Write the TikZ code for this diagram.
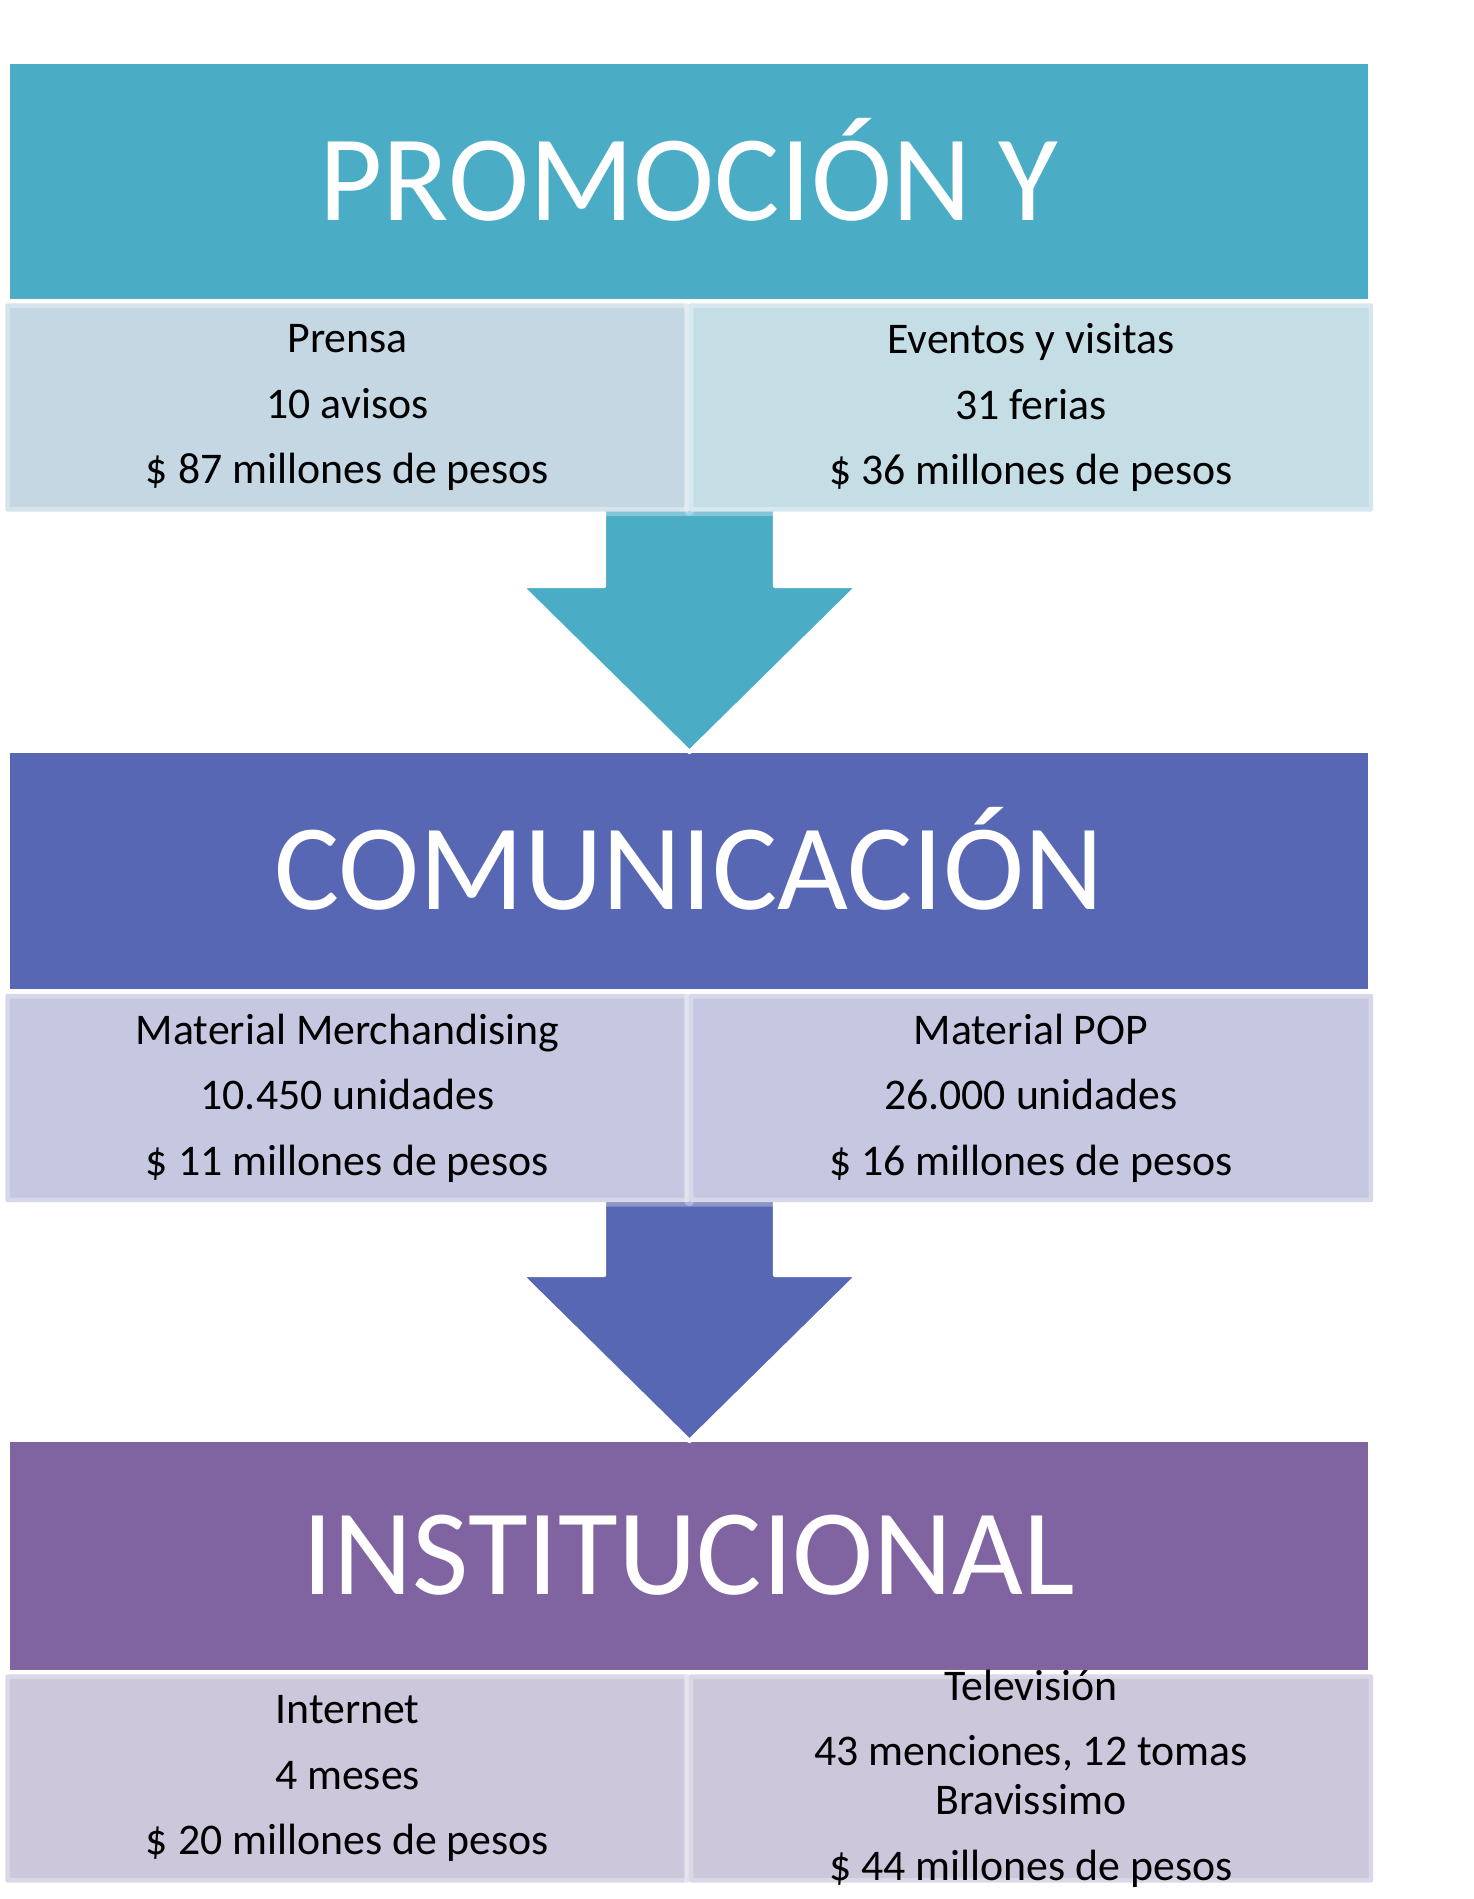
\documentclass[tikz,border=0pt]{standalone}
\usepackage{fontspec}
\setmainfont{Carlito}
\usetikzlibrary{positioning}

\definecolor{promoBand}{HTML}{4BACC6}
\definecolor{comBand}{HTML}{5867B3}
\definecolor{instBand}{HTML}{8064A2}
\definecolor{promoCellL}{HTML}{C4D7E3}
\definecolor{promoCellR}{HTML}{C5DEE6}
\definecolor{comCell}{HTML}{C5C8E0}
\definecolor{instCell}{HTML}{CDC7DC}

\begin{document}
\begin{tikzpicture}[
  x=0.01cm, y=-0.01cm,
  band/.style={minimum width=13.58cm, minimum height=2.35cm, inner sep=0pt,
    text=white, text height=22pt, text depth=0pt, font=\fontsize{34.8}{42}\selectfont},
  cell/.style={minimum width=6.84cm, minimum height=2.08cm, inner sep=0pt, align=center,
    draw=white, draw opacity=0.3, line width=2.6pt, rounded corners=0.6pt,
    font=\fontsize{12.45}{18.6}\selectfont},
  flow/.style={draw=white, line width=1.2pt, line join=round}
]
\useasboundingbox (0,0) rectangle (1474,1899);

% Stage headers
\node[band, fill=promoBand] (promo) at (689,181.5) {PROMOCIÓN Y};
\node[band, fill=comBand] (com) at (689,871) {COMUNICACIÓN};
\node[band, fill=instBand, minimum height=2.28cm] (inst) at (689,1556) {INSTITUCIONAL};

% Block arrows from one stage to the next
\foreach \dy/\col in {0/promoBand, 689/comBand} {
  \filldraw[flow, fill=\col] (604,500+\dy) -- (775,500+\dy) -- (775,586+\dy)
    -- (858,586+\dy) -- (689.5,752+\dy) -- (521,586+\dy) -- (604,586+\dy) -- cycle;
}

% Detail cells under each stage
\node[cell, fill=promoCellL] (prensa) at (347.5,407.5)
  {Prensa\\10 avisos\\\$ 87 millones de pesos};
\node[cell, fill=promoCellR] (eventos) at (1031,407.5)
  {Eventos y visitas\\31 ferias\\\$ 36 millones de pesos};

\node[cell, fill=comCell] (merch) at (347.5,1098)
  {Material Merchandising\\10.450 unidades\\\$ 11 millones de pesos};
\node[cell, fill=comCell] (pop) at (1031,1098)
  {Material POP\\26.000 unidades\\\$ 16 millones de pesos};

\node[cell, fill=instCell] (internet) at (347.5,1778.5)
  {Internet\\4 meses\\\$ 20 millones de pesos};
% text runs past the cell edges here, box kept at cell size
\node[cell, fill=instCell, inner ysep=-5pt] (tele) at (1031,1778.5)
  {Televisión\\43 menciones, 12 tomas\\[-4.6pt]Bravissimo\\\$ 44 millones de pesos};

\end{tikzpicture}
\end{document}
